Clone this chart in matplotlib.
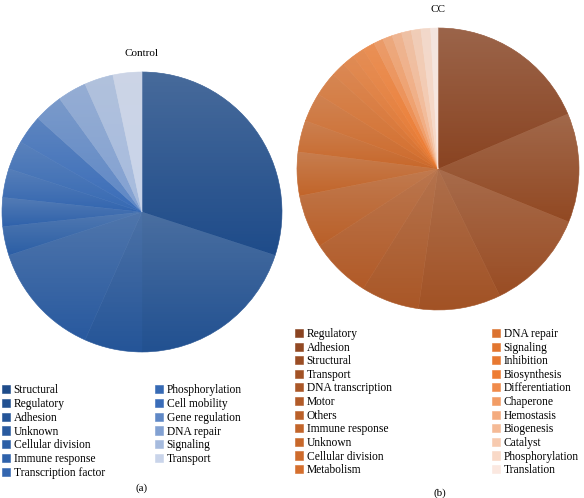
import matplotlib.pyplot as plt
import numpy as np
from matplotlib.colors import LinearSegmentedColormap

plt.rcParams['font.family'] = ['Liberation Serif', 'DejaVu Serif']

# (a) Control
control_labels = ['Structural', 'Regulatory', 'Adhesion', 'Unknown', 'Cellular division',
                  'Immune response', 'Transcription factor', 'Phosphorylation', 'Cell mobility',
                  'Gene regulation', 'DNA repair', 'Signaling', 'Transport']
control_values = [9, 6, 2, 4, 1, 1, 1, 1, 1, 1, 1, 1, 1]

# (b) CC
cc_labels = ['Regulatory', 'Adhesion', 'Structural', 'Transport', 'DNA transcription', 'Motor',
             'Others', 'Immune response', 'Unknown', 'Cellular division', 'Metabolism',
             'DNA repair', 'Signaling', 'Inhibition', 'Biosynthesis', 'Differentiation',
             'Chaperone', 'Hemostasis', 'Biogenesis', 'Catalyst', 'Phosphorylation', 'Translation']
cc_values = [67, 45, 42, 34, 24, 25, 22, 18, 13, 12, 10, 6, 5, 5, 5, 4, 4, 4, 4, 4, 4, 3]

W, H = 584, 498
fig = plt.figure(figsize=(W / 100, H / 100), dpi=100)

blues = LinearSegmentedColormap.from_list('b', ['#1f4c8a', '#2c5fa6', '#3a6db9', '#c9d4ea'])
oranges = LinearSegmentedColormap.from_list('o', ['#8a4422', '#c2652a', '#ee7c32', '#fbe8e0'])


def pie_panel(cx, cy, r, values, cmap, title, title_y):
    ax = fig.add_axes([(cx - r) / W, (H - cy - r) / H, 2 * r / W, 2 * r / H])
    n = len(values)
    cols = [cmap(i / (n - 1)) for i in range(n)]
    wedges, _ = ax.pie(values, colors=cols, startangle=90, counterclock=False,
                       wedgeprops=dict(linewidth=0.4))
    for w in wedges:
        w.set_edgecolor(w.get_facecolor())
    # soft vertical sheen on each slice (lighter at the top)
    sheen = np.zeros((64, 1, 4))
    sheen[..., :3] = 0.85
    sheen[:, 0, 3] = np.linspace(0, 0.22, 64)
    for w in wedges:
        v = w.get_path().vertices
        v = w.get_patch_transform().transform(v)
        ext = (v[:, 0].min(), v[:, 0].max(), v[:, 1].min(), v[:, 1].max())
        im = ax.imshow(sheen, extent=ext, origin='lower', aspect='auto',
                       interpolation='bilinear', zorder=3)
        im.set_clip_path(w)
    ax.set_xlim(-1, 1)
    ax.set_ylim(-1, 1)
    ax.set_aspect('equal')
    ax.axis('off')
    fig.text(cx / W, 1 - title_y / H, title, ha='center', va='center', fontsize=8)
    return wedges


def legend_col(handles, labels, x, y, ls):
    leg = fig.legend(handles, labels, loc='upper left', bbox_to_anchor=(x / W, 1 - y / H),
                     frameon=False, fontsize=8.3, handlelength=0.7, handleheight=0.7,
                     handletextpad=0.3, labelspacing=ls, borderaxespad=0, borderpad=0)
    return leg


wl = pie_panel(142, 212, 140, control_values, blues, 'Control', 53)
wr = pie_panel(438, 169, 141, cc_values, oranges, 'CC', 10)

legend_col(wl[:7], control_labels[:7], 2, 384, 0.16)
legend_col(wl[7:], control_labels[7:], 155, 384, 0.16)
legend_col(wr[:11], cc_labels[:11], 295, 328, 0.14)
legend_col(wr[11:], cc_labels[11:], 492, 328, 0.14)

fig.text(142 / W, 1 - 488 / H, '(a)', ha='center', va='center', fontsize=8)
fig.text(440 / W, 1 - 493 / H, '(b)', ha='center', va='center', fontsize=8)

fig.savefig('out.png', dpi=100)
